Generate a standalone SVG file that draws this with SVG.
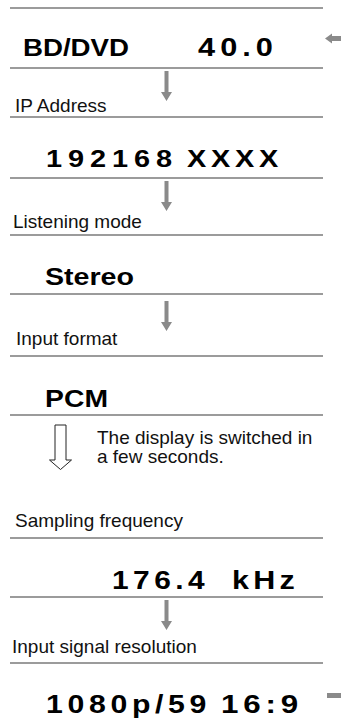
<svg xmlns="http://www.w3.org/2000/svg" width="341" height="720" viewBox="0 0 341 720">
<style>
.sep{stroke:#7a7a7a;stroke-width:1.3;fill:none}
.lbl{font-family:"Liberation Sans",Arial,sans-serif;font-size:19px;fill:#111}
.val{font-family:"Liberation Sans",Arial,sans-serif;font-weight:bold;font-size:24px;fill:#000}
.arr{fill:#8a8a8a}
.hollow{fill:#fff;stroke:#222;stroke-width:1}
</style>
<defs>
<path id="darr" d="M-2,0 H2 V21 H5.5 L0,30 L-5.5,21 H-2 Z"/>
</defs>
<rect width="341" height="720" fill="#fff"/>

<g id="node-input">
<line class="sep" x1="10" y1="8" x2="323" y2="8"/>
<text class="val" x="23" y="56" textLength="106" lengthAdjust="spacingAndGlyphs">BD/DVD</text>
<text class="val" x="198" y="56" style="font-size:25px;letter-spacing:4.1px" textLength="80" lengthAdjust="spacingAndGlyphs">40.0</text>
<line class="sep" x1="10" y1="68" x2="323" y2="68"/>
</g>

<g id="node-ip">
<text class="lbl" x="15" y="112">IP Address</text>
<line class="sep" x1="10" y1="117" x2="323" y2="117"/>
<text class="val" x="46" y="167" style="font-size:24.5px"><tspan x="46" style="letter-spacing:5px" textLength="132" lengthAdjust="spacingAndGlyphs">192168</tspan> <tspan x="187" style="letter-spacing:4px" textLength="96" lengthAdjust="spacingAndGlyphs">XXXX</tspan></text>
<line class="sep" x1="10" y1="178" x2="323" y2="178"/>
</g>

<g id="node-listening">
<text class="lbl" x="13" y="228">Listening mode</text>
<line class="sep" x1="10" y1="235" x2="323" y2="235"/>
<text class="val" x="45" y="285" textLength="89" lengthAdjust="spacingAndGlyphs">Stereo</text>
<line class="sep" x1="10" y1="294" x2="323" y2="294"/>
</g>

<g id="node-format">
<text class="lbl" x="16" y="345">Input format</text>
<line class="sep" x1="10" y1="356" x2="323" y2="356"/>
<text class="val" x="45" y="407" textLength="63" lengthAdjust="spacingAndGlyphs">PCM</text>
<line class="sep" x1="10" y1="415" x2="323" y2="415"/>
</g>

<g id="note">
<text class="lbl" x="97" y="444">The display is switched in</text>
<text class="lbl" x="97" y="463">a few seconds.</text>
</g>

<g id="node-sampling">
<text class="lbl" x="15" y="527">Sampling frequency</text>
<line class="sep" x1="10" y1="538" x2="323" y2="538"/>
<text class="val" x="112" y="589" style="font-size:25px"><tspan x="112" style="letter-spacing:3.7px" textLength="97" lengthAdjust="spacingAndGlyphs">176.4</tspan> <tspan x="232" style="letter-spacing:3.5px" textLength="67" lengthAdjust="spacingAndGlyphs">kHz</tspan></text>
<line class="sep" x1="10" y1="597" x2="323" y2="597"/>
</g>

<g id="node-resolution">
<text class="lbl" x="12" y="653">Input signal resolution</text>
<line class="sep" x1="10" y1="663" x2="323" y2="663"/>
<text class="val" x="46" y="713" style="font-size:26px"><tspan x="46" style="letter-spacing:4px" textLength="165" lengthAdjust="spacingAndGlyphs">1080p/59</tspan> <tspan x="221" style="letter-spacing:4px" textLength="82" lengthAdjust="spacingAndGlyphs">16:9</tspan></text>
</g>

<g id="connectors">
<use href="#darr" class="arr" transform="translate(166.5,71)"/>
<use href="#darr" class="arr" transform="translate(166.5,181)"/>
<use href="#darr" class="arr" transform="translate(166.5,301)"/>
<use href="#darr" class="arr" transform="translate(166.5,600)"/>
<path class="hollow" d="M55,425 H66 V460 H71.5 L60.5,469.5 L49.5,460 H55 Z"/>
<path class="arr" d="M341,36 V41 H332 V43.5 L325,38.5 L332,33.5 V36 Z"/>
<rect class="arr" x="327" y="693" width="14" height="5"/>
</g>
</svg>
